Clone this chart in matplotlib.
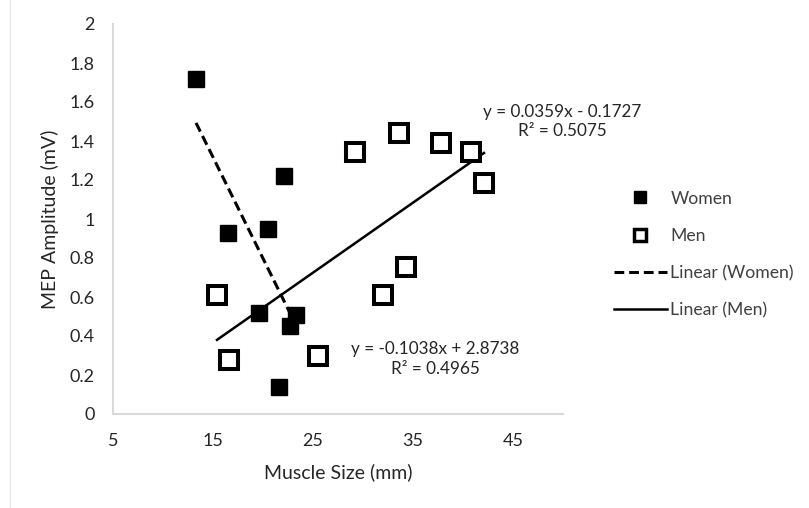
import numpy as np
import matplotlib
matplotlib.use("Agg")
import matplotlib.pyplot as plt
from matplotlib.lines import Line2D

plt.rcParams["font.family"] = ["Lato", "DejaVu Sans"]

# data
women_size = [13.3, 22.1, 16.5, 20.5, 19.6, 23.3, 22.7, 21.6]
women_mep = [1.72, 1.22, 0.93, 0.947, 0.52, 0.51, 0.45, 0.14]
men_size = [15.4, 16.6, 25.5, 32.0, 34.3, 29.2, 33.6, 37.8, 40.8, 42.1]
men_mep = [0.61, 0.275, 0.295, 0.61, 0.755, 1.345, 1.44, 1.39, 1.345, 1.185]

# trend line coefficients as printed on the chart
women_fit = [-0.1038, 2.8738]
men_fit = [0.0359, -0.1727]
women_r2 = 0.4965
men_r2 = 0.5075

x_ticks = [5, 15, 25, 35, 45]
y_ticks = [0, 0.2, 0.4, 0.6, 0.8, 1, 1.2, 1.4, 1.6, 1.8, 2]

TXT = "#262626"
GRID = "#d9d9d9"
W, H = 809, 508

fig = plt.figure(figsize=(W / 100, H / 100), dpi=100)
ax = fig.add_axes([113 / W, 1 - 414 / H, 450 / W, 390 / H])

ax.plot(women_size, women_mep, ls="none", marker="s", ms=12, color="black",
        mec="black", label="Women", zorder=3)
ax.plot(men_size, men_mep, ls="none", marker="s", ms=13, mfc="white",
        mec="black", mew=2.9, label="Men", zorder=3)

dash = (0, (3.2, 1.6))
xw = np.array([min(women_size), max(women_size)])
ax.plot(xw, np.polyval(women_fit, xw), color="black", lw=2.2, ls=dash, zorder=2)
xm = np.array([min(men_size), max(men_size)])
ax.plot(xm, np.polyval(men_fit, xm), color="black", lw=1.8, zorder=2)

ax.text(37.25, 0.282,
        f"y = {women_fit[0]:.4f}x + {women_fit[1]:.4f}\nR² = {women_r2:.4f}",
        ha="center", va="center", fontsize=12.3, color=TXT, linespacing=1.3)
ax.text(49.9, 1.50,
        f"y = {men_fit[0]:.4f}x - {abs(men_fit[1]):.4f}\nR² = {men_r2:.4f}",
        ha="center", va="center", fontsize=12.3, color=TXT, linespacing=1.3,
        clip_on=False)

ax.set_xlim(5, 50)
ax.set_ylim(0, 2)
ax.set_xticks(x_ticks)
ax.set_yticks(y_ticks)
ax.set_yticklabels([f"{v:g}" for v in y_ticks])
ax.tick_params(length=0, labelsize=13, colors=TXT)
ax.tick_params(axis="y", pad=13)
ax.tick_params(axis="x", pad=14)
for s in ["top", "right"]:
    ax.spines[s].set_visible(False)
for s in ["left", "bottom"]:
    ax.spines[s].set_color(GRID)
    ax.spines[s].set_linewidth(1.5)

fig.text(338.5 / W, 1 - 472 / H, "Muscle Size (mm)", fontsize=14, color=TXT,
         ha="center", va="center")
fig.text(50 / W, 1 - 219 / H, "MEP Amplitude (mV)", fontsize=14, color=TXT,
         ha="center", va="center", rotation=90)

handles = [
    Line2D([], [], ls="none", marker="s", ms=8, color="black"),
    Line2D([], [], ls="none", marker="s", ms=9, mfc="white", mec="black", mew=2.5),
    Line2D([], [], color="black", lw=2.2, ls=dash),
    Line2D([], [], color="black", lw=1.8),
]
labels = ["Women", "Men", "Linear (Women)", "Linear (Men)"]
leg = fig.legend(handles, labels, loc="center left", bbox_to_anchor=(598 / W, 1 - 254.5 / H),
                 frameon=False, fontsize=12.7, handlelength=3.0, handletextpad=0.2,
                 labelspacing=1.2)
for t in leg.get_texts():
    t.set_color("#404040")

# faint chart-area border on the left
fig.add_artist(Line2D([10 / W, 10 / W], [0, 1], color="#e6e6e6", lw=1))

fig.savefig("out.png", dpi=100)
